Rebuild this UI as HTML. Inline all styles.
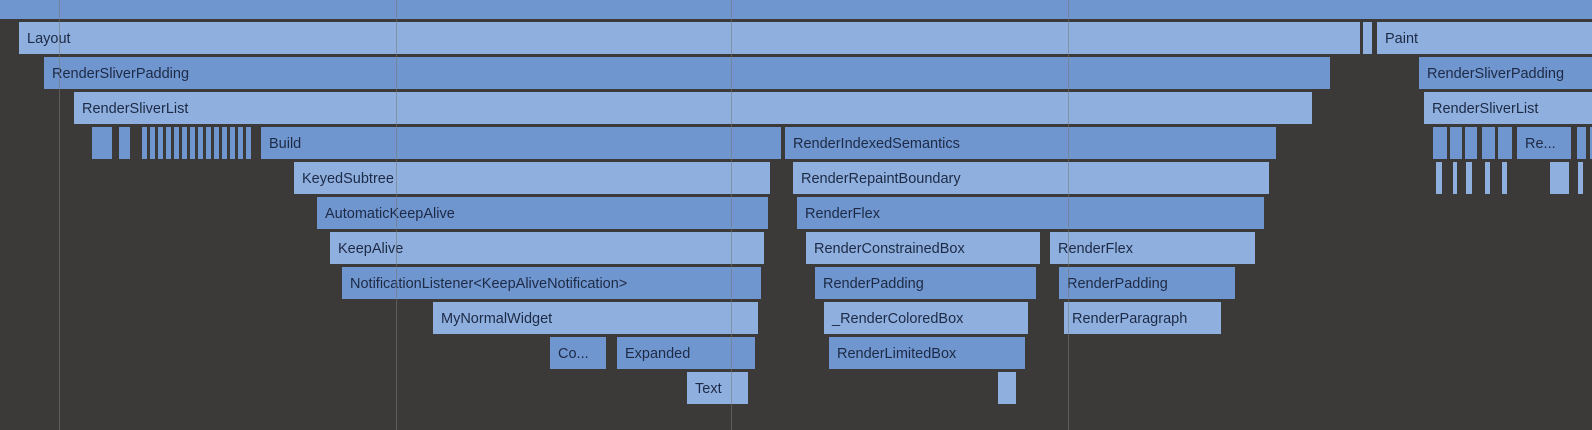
<!DOCTYPE html>
<html><head><style>
html,body{margin:0;padding:0}
body{width:1592px;height:430px;background:#3b3a39;position:relative;overflow:hidden;font-family:"Liberation Sans",sans-serif}
.b{position:absolute;height:32px;box-sizing:border-box;font-size:14.5px;line-height:34px;color:#1d2a45;padding-left:8px;white-space:nowrap;overflow:hidden}
.e{padding-left:0}
.l{background:#8fb0df}
.d{background:#7096d0}
.g{position:absolute;top:0;width:1px;height:430px;background:rgba(120,120,120,0.55)}
</style></head><body>
<div class="b d e" style="left:0;top:0;width:1592px;height:19px"></div>
<div id="c"></div>
<div class="g" style="left:59px"></div>
<div class="g" style="left:396px"></div>
<div class="g" style="left:731px"></div>
<div class="g" style="left:1068px"></div>
<script>
var bars=[
[0,19,1360,'l','Layout'],[0,1363,1372,'l',''],[0,1377,1592,'l','Paint'],
[1,44,1330,'d','RenderSliverPadding'],[1,1419,1592,'d','RenderSliverPadding'],
[2,74,1312,'l','RenderSliverList'],[2,1424,1592,'l','RenderSliverList'],
[3,92,112,'d',''],[3,119,130,'d',''],[3,261,781,'d','Build'],[3,785,1276,'d','RenderIndexedSemantics'],
[3,1433,1447,'d',''],[3,1450,1462,'d',''],[3,1465,1477,'d',''],[3,1482,1495,'d',''],[3,1498,1512,'d',''],[3,1517,1571,'d','Re...'],[3,1577,1586,'d',''],[3,1590,1592,'d',''],
[4,294,770,'l','KeyedSubtree'],[4,793,1269,'l','RenderRepaintBoundary'],
[4,1436,1442,'l',''],[4,1453,1457,'l',''],[4,1466,1472,'l',''],[4,1485,1490,'l',''],[4,1502,1507,'l',''],[4,1550,1569,'l',''],[4,1578,1583,'l',''],
[5,317,768,'d','AutomaticKeepAlive'],[5,797,1264,'d','RenderFlex'],
[6,330,764,'l','KeepAlive'],[6,806,1040,'l','RenderConstrainedBox'],[6,1050,1255,'l','RenderFlex'],
[7,342,761,'d','NotificationListener&lt;KeepAliveNotification&gt;'],[7,815,1036,'d','RenderPadding'],[7,1059,1235,'d','RenderPadding'],
[8,433,758,'l','MyNormalWidget'],[8,824,1028,'l','_RenderColoredBox'],[8,1064,1221,'l','RenderParagraph'],
[9,550,606,'d','Co...'],[9,617,755,'d','Expanded'],[9,829,1025,'d','RenderLimitedBox'],
[10,687,748,'l','Text'],[10,998,1016,'l','']
];
for(var x=142;x<253;x+=8)bars.push([3,x,x+5,'d','']);
var h='';
bars.forEach(function(b){h+='<div class="b '+b[3]+(b[4]?'':' e')+'" style="left:'+b[1]+'px;top:'+(22+35*b[0])+'px;width:'+(b[2]-b[1])+'px">'+b[4]+'</div>';});
document.getElementById('c').innerHTML=h;
</script>
</body></html>
